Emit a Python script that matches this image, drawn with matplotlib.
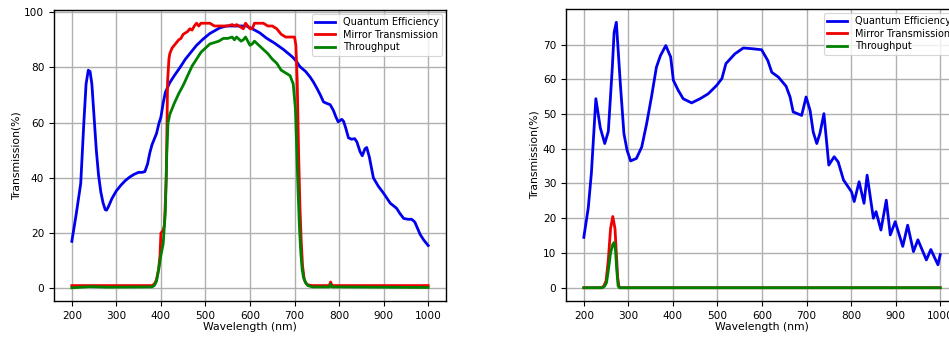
import matplotlib
matplotlib.use("Agg")
import matplotlib.pyplot as plt

# ---- Left panel data ----
qe1_wl = [200, 210, 220, 227, 232, 237, 241, 245, 250, 255, 260, 265, 270, 275, 278, 282, 290, 300, 310, 320, 330, 340, 350, 358, 364, 370, 375, 380, 390, 396, 400, 405, 410, 420, 430, 443, 455, 465, 480, 495, 510, 532, 547, 570, 592, 605, 622, 637, 655, 675, 690, 697, 705, 712, 725, 735, 742, 750, 758, 765, 772, 780, 787, 793, 798, 806, 810, 815, 821, 828, 835, 840, 847, 852, 858, 862, 868, 877, 888, 900, 915, 929, 937, 945, 955, 963, 970, 982, 990, 1000]
qe1_val = [17, 27, 38, 60, 74, 79, 78.5, 74, 62, 50, 41, 35, 31, 28.5, 28.3, 29.5, 32.5, 35.3, 37.3, 39, 40.3, 41.3, 42, 42, 42.3, 45, 49, 52, 56, 60, 62, 67, 71, 74.5, 77, 80, 83, 85, 88, 90.3, 92.3, 94.3, 95, 95, 95, 94, 92.5, 90.6, 88.8, 86.5, 84.5, 83.5, 82, 80.3, 78.5, 76.5, 74.8, 72.5, 70, 67.5, 67, 66.5, 64.5, 62, 60.3, 61.2, 60.5, 58, 54.5, 54, 54.2, 53, 49.5, 48, 50.5, 51, 47.5, 40, 37, 34.4, 30.8, 29, 27, 25.3, 25, 25, 24, 19.5, 17.5, 15.5]

mir1_wl = [200, 380, 385, 390, 395, 398, 400, 405, 408, 412, 415, 418, 420, 425, 430, 435, 440, 445, 450, 455, 460, 465, 470, 475, 480, 485, 490, 500, 510, 520, 530, 540, 550, 560, 565, 570, 580, 585, 590, 595, 600, 605, 610, 620, 630, 640, 650, 660, 665, 670, 680, 690, 700, 703, 706, 709, 712, 715, 718, 722, 726, 730, 740, 778, 781, 784, 790, 1000]
mir1_val = [1, 1, 1.5, 3, 7, 12, 20, 21, 23, 40, 75, 83, 85, 87, 88, 89, 90, 90.5, 92, 92.5, 93, 94, 93.5, 95, 96, 95, 96, 96, 96, 95, 95, 95, 95, 95.5, 95, 95.5, 94.5, 94, 96, 95, 94, 94, 96, 96, 96, 95, 95, 94, 93, 92, 91, 91, 91, 88, 75, 50, 30, 17, 8, 3, 1.8, 1.2, 1, 1, 2.3, 1, 1, 1]

thr1_wl = [200, 240, 280, 380, 385, 390, 395, 400, 405, 410, 413, 416, 420, 430, 440, 450, 460, 470, 480, 490, 500, 510, 520, 530, 540, 550, 560, 565, 570, 580, 585, 590, 600, 605, 610, 620, 630, 640, 650, 660, 670, 680, 690, 697, 702, 705, 708, 711, 714, 717, 720, 725, 730, 740, 778, 781, 784, 790, 1000]
thr1_val = [0.2, 0.6, 0.4, 0.5, 1, 2.5, 7, 12, 16, 28, 48, 60, 63, 67, 70.5, 73.5, 77, 80.5, 83, 85.5, 87, 88.5, 89, 89.5, 90.5, 90.5, 91, 90, 91, 89.5, 90, 91, 88, 88.5, 89.5, 88, 86.5, 85, 83, 81.5, 79, 78, 77, 74, 65, 50, 35, 22, 13, 7, 4, 2, 1, 0.5, 0.5, 1.5, 0.5, 0.5, 0.3]

# ---- Right panel data ----
qe2_wl = [200, 210, 217, 227, 237, 247, 255, 264, 268, 273, 282, 290, 297, 305, 318, 330, 341, 352, 363, 372, 384, 395, 401, 412, 423, 442, 461, 479, 498, 510, 519, 539, 558, 577, 599, 613, 622, 637, 654, 663, 670, 689, 699, 708, 715, 723, 730, 739, 750, 762, 771, 783, 801, 807, 818, 829, 836, 850, 856, 867, 879, 888, 899, 916, 927, 940, 950, 969, 979, 995, 1000]
qe2_val = [14.5, 23, 33, 54.4, 46, 41.5, 45, 63.5, 73.5, 76.4, 58.7, 44.4, 39.6, 36.5, 37.2, 40.5, 47.2, 55, 63.5, 66.8, 69.7, 66.4, 59.7, 56.8, 54.4, 53.2, 54.4, 55.8, 58.2, 60.2, 64.5, 67.3, 69, 68.8, 68.5, 65.4, 62, 60.6, 58, 54.9, 50.6, 49.6, 54.9, 51, 44.8, 41.5, 44.4, 50.1, 35.3, 37.7, 36.2, 31, 27.6, 24.8, 30.5, 24.3, 32.4, 20, 21.9, 16.6, 25.2, 15.2, 19, 11.9, 18, 10.4, 13.8, 8, 11, 6.6, 9.5]

mir2_wl = [200, 240, 245, 250, 255, 260, 265, 270, 273, 276, 279, 282, 1000]
mir2_val = [0, 0, 0.5, 2, 8, 17, 20.5, 17, 10, 3, 0.3, 0, 0]

thr2_wl = [200, 242, 247, 251, 255, 260, 265, 268, 271, 274, 277, 280, 1000]
thr2_val = [0, 0, 0.5, 1.5, 5, 10, 12.5, 13, 11, 5, 0.5, 0, 0]

W, H, DPI = 949, 337, 100
fig = plt.figure(figsize=(W / DPI, H / DPI), dpi=DPI)

fs_tick = 7.6
fs_label = 7.8
fs_leg = 7.0

def style(ax):
    ax.grid(True, color="#b0b0b0", linewidth=1.0)
    ax.set_axisbelow(True)
    ax.tick_params(labelsize=fs_tick, length=3.5, width=0.8)
    for s in ax.spines.values():
        s.set_linewidth(1.0)
    ax.set_xlabel("Wavelength (nm)", fontsize=fs_label, labelpad=1)
    ax.set_ylabel("Transmission(%)", fontsize=fs_label, labelpad=2)
    ax.set_xticks([200, 300, 400, 500, 600, 700, 800, 900, 1000])
    leg = ax.legend(loc="upper right", fontsize=fs_leg, handlelength=2.0,
                    borderpad=0.35, labelspacing=0.25, handletextpad=0.8,
                    borderaxespad=0.4)
    leg.get_frame().set_linewidth(0.8)

ax1 = fig.add_axes([54 / W, 36 / H, 392 / W, 291 / H])
ax1.plot(qe1_wl, qe1_val, color="#0000ee", lw=2, label="Quantum Efficiency")
ax1.plot(mir1_wl, mir1_val, color="#ee0000", lw=2, label="Mirror Transmission")
ax1.plot(thr1_wl, thr1_val, color="#008000", lw=2, label="Throughput")
ax1.set_yticks([0, 20, 40, 60, 80, 100])
style(ax1)

ax2 = fig.add_axes([566 / W, 36 / H, 392 / W, 292 / H])
ax2.plot(qe2_wl, qe2_val, color="#0000ee", lw=2, label="Quantum Efficiency")
ax2.plot(mir2_wl, mir2_val, color="#ee0000", lw=2, label="Mirror Transmission")
ax2.plot(thr2_wl, thr2_val, color="#008000", lw=2, label="Throughput")
ax2.set_yticks([0, 10, 20, 30, 40, 50, 60, 70])
style(ax2)

fig.savefig("out.png", dpi=DPI)
